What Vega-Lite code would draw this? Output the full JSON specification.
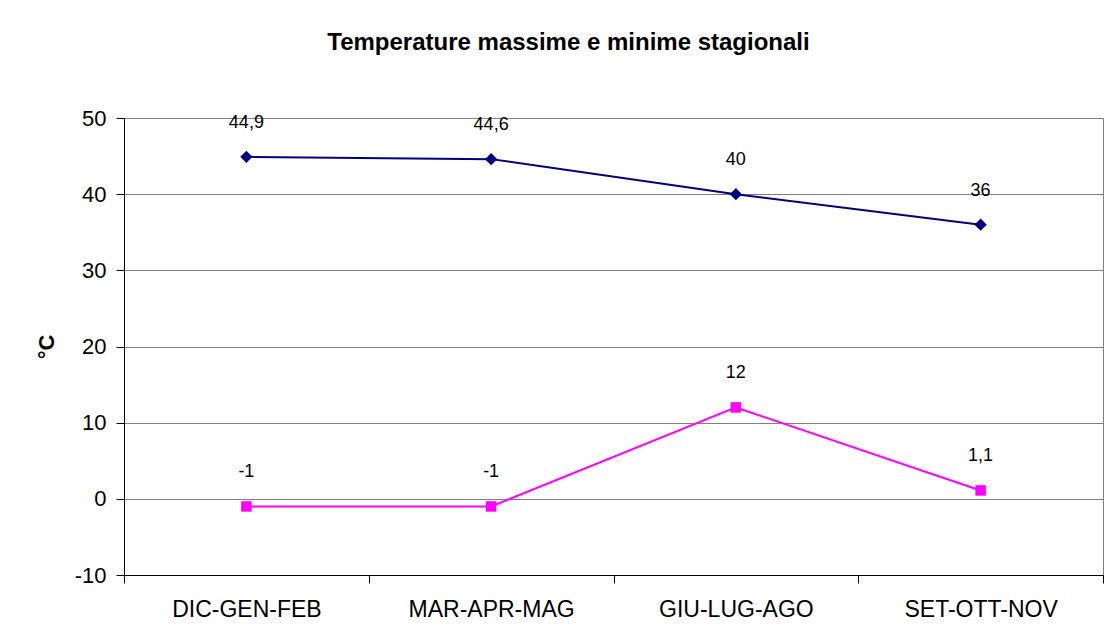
{
  "$schema": "https://vega.github.io/schema/vega-lite/v6.json",
  "width": 979,
  "height": 457,
  "autosize": {"type": "none"},
  "padding": {"left": 124, "top": 118, "right": 4, "bottom": 68},
  "background": "white",
  "title": {
    "text": "Temperature massime e minime stagionali",
    "fontSize": 24,
    "fontWeight": "bold",
    "color": "black",
    "anchor": "middle",
    "baseline": "alphabetic",
    "dx": -45,
    "offset": 33
  },
  "data": {
    "values": [
      {"stagione": "DIC-GEN-FEB", "serie": "max", "valore": 44.9},
      {"stagione": "MAR-APR-MAG", "serie": "max", "valore": 44.6},
      {"stagione": "GIU-LUG-AGO", "serie": "max", "valore": 40},
      {"stagione": "SET-OTT-NOV", "serie": "max", "valore": 36},
      {"stagione": "DIC-GEN-FEB", "serie": "min", "valore": -1},
      {"stagione": "MAR-APR-MAG", "serie": "min", "valore": -1},
      {"stagione": "GIU-LUG-AGO", "serie": "min", "valore": 12},
      {"stagione": "SET-OTT-NOV", "serie": "min", "valore": 1.1}
    ]
  },
  "encoding": {
    "x": {
      "field": "stagione",
      "type": "nominal",
      "sort": ["DIC-GEN-FEB", "MAR-APR-MAG", "GIU-LUG-AGO", "SET-OTT-NOV"],
      "bandPosition": 0.5,
      "scale": {"type": "band", "paddingInner": 0, "paddingOuter": 0},
      "axis": {
        "title": null,
        "labelAngle": 0,
        "labelFontSize": 23,
        "labelColor": "black",
        "labelPadding": 15,
        "tickBand": "extent",
        "tickSize": 8,
        "tickColor": "black",
        "domainColor": "black",
        "grid": false
      }
    },
    "y": {
      "field": "valore",
      "type": "quantitative",
      "scale": {"domain": [-10, 50], "nice": false, "zero": false},
      "axis": {
        "title": "°C",
        "titleFontSize": 22,
        "titleFontWeight": "bold",
        "titleColor": "black",
        "titlePadding": 16,
        "values": [-10, 0, 10, 20, 30, 40, 50],
        "labelFontSize": 22,
        "labelColor": "black",
        "labelPadding": 10,
        "tickSize": 8,
        "tickColor": "black",
        "domainColor": "black",
        "grid": true,
        "gridColor": "#808080",
        "gridOpacity": 1
      }
    },
    "color": {
      "field": "serie",
      "type": "nominal",
      "scale": {"domain": ["max", "min"], "range": ["#000080", "#FF00FF"]},
      "legend": null
    }
  },
  "layer": [
    {"mark": {"type": "line", "strokeWidth": 2}},
    {
      "mark": {"type": "point", "filled": true, "opacity": 1},
      "encoding": {
        "shape": {
          "field": "serie",
          "type": "nominal",
          "scale": {"domain": ["max", "min"], "range": ["diamond", "square"]},
          "legend": null
        },
        "size": {
          "field": "serie",
          "type": "nominal",
          "scale": {"domain": ["max", "min"], "range": [150, 110]},
          "legend": null
        }
      }
    },
    {
      "mark": {"type": "text", "dy": -34, "fontSize": 18, "color": "black", "baseline": "middle"},
      "encoding": {
        "text": {"field": "valore", "type": "quantitative", "format": ".3~g"},
        "color": {"value": "black"}
      }
    }
  ],
  "config": {
    "font": "Liberation Sans",
    "locale": {
      "number": {"decimal": ",", "thousands": ".", "grouping": [3], "currency": ["€", ""], "minus": "-"}
    },
    "view": {"stroke": "#808080", "strokeWidth": 1}
  }
}
